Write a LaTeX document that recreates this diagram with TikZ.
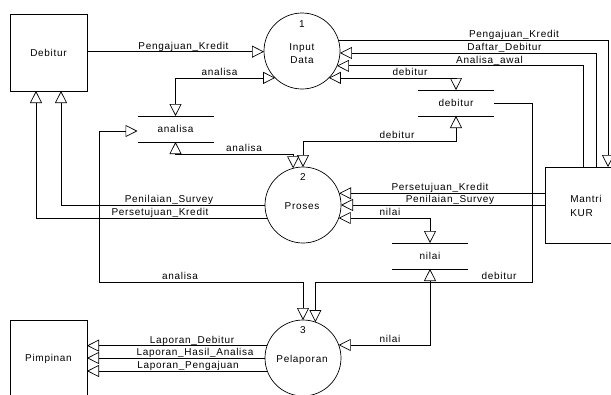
\documentclass[tikz,border=0pt]{standalone}
\usepackage{fontspec}
\setmainfont[LetterSpace=7]{Liberation Sans}
\usetikzlibrary{arrows.meta,calc}
\begin{document}
\begin{tikzpicture}[x=1pt,y=-1pt,font=\fontsize{10}{12}\selectfont,line width=0.7pt,
  proc/.style={circle,draw,minimum size=76pt,inner sep=0pt,outer sep=0pt},
  store/.style={minimum width=76pt,minimum height=26pt,inner sep=0pt,outer sep=0pt},
  ent/.style={draw,rectangle,minimum width=77pt,minimum height=77pt,inner sep=0pt,outer sep=0pt},
  flow/.style={-{Triangle[open,length=12pt,width=12pt]}},
  bflow/.style={{Triangle[open,length=12pt,width=12pt]}-{Triangle[open,length=12pt,width=12pt]}},
  lbl/.style={anchor=base,inner sep=0pt}]
\useasboundingbox (0,0) rectangle (611,394);
\clip (0,0) rectangle (611,394);
% entities
\node[ent] (deb) at (48.5,52.5) {Debitur};
\node[ent] (pim) at (48.5,358.5) {Pimpinan};
\node[draw,minimum width=80pt,minimum height=76pt,inner sep=0pt,outer sep=0pt] (man) at (585,205) {};
\node[anchor=base west,inner sep=0pt] (manA) at (570,202) {Mantri};
\node[anchor=base west,inner sep=0pt] (manB) at (570,216) {KUR};
% processes
\node[proc] (c1) at (302,51) {};
\node[lbl] (c1n) at (302,27) {1};
\node[lbl] (c1a) at (302,50) {Input};
\node[lbl] (c1b) at (302,63) {Data};
\node[proc] (c2) at (303,205) {};
\node[lbl] (c2n) at (303,180) {2};
\node[lbl] (c2a) at (302,209) {Proses};
\node[proc] (c3) at (303,358) {};
\node[lbl] (c3n) at (303,333) {3};
\node[lbl] (c3a) at (302,362) {Pelaporan};
% stores
\node[store] (ana) at (175.5,129) {analisa};
\node[store] (dbs) at (456,103) {debitur};
\node[store] (nil) at (430,256) {nilai};
\foreach \s in {ana,dbs,nil}{
  \draw (\s.north west) -- (\s.north east) (\s.south west) -- (\s.south east);
}
% flows
\draw[flow] (deb.east |- c1.181.5) -- (c1.181.5);
\draw[bflow] (c1.225.3) -| (ana.north);
\draw[bflow] (ana.south) -- ++(0,12) -| (c2.105.3);
\draw[bflow] (c1.-45.3) -| (dbs.north);
\draw[bflow] (dbs.south) -- ++(0,25) -| (c2.90);
\draw[flow] (c1.16.8) -| ($(man.north west)+(63,0)$);
\draw[flow] ($(man.north west)+(51,0)$) |- (c1.-3);
\draw[flow] ($(man.north west)+(38,0)$) |- (c1.-23.3);
\draw[flow] (man.west |- c2.18.4) -- (c2.18.4);
\draw[flow] (man.west |- c2.0) -- (c2.0);
\draw[bflow] (c2.-20) -| (nil.north);
\draw[bflow] (nil.south) |- (c3.20);
\draw[flow] (c2.180) -| ($(deb.south)+(12.5,0)$);
\draw[flow] (c2.200) -| ($(deb.south)+(-12.5,0)$);
\draw[bflow] ($(ana.west)+(0,2)$) -- ++(-38,0) |- ($(c3.90)+(0,-38)$) -- (c3.90);
\draw[flow] (dbs.east) -- ++(38,0) |- ($(c3.71.6)+(0,-40)$) -- (c3.71.6);
\draw[flow] (c3.161.6) -- (pim.east |- c3.161.6);
\draw[flow] (c3.180) -- (pim.east |- c3.180);
\draw[flow] (c3.200) -- (pim.east |- c3.200);
% labels
\node[lbl] (l1) at (183.5,49.5) {Pengajuan\_Kredit};
\node[lbl] (l2) at (219.5,75.5) {analisa};
\node[lbl] (l3) at (244,151.5) {analisa};
\node[lbl] (l4) at (514,37.5) {Pengajuan\_Kredit};
\node[lbl] (l5) at (504.5,50.5) {Daftar\_Debitur};
\node[lbl] (l6) at (489.5,63.5) {Analisa\_awal};
\node[lbl] (l7) at (410,75.5) {debitur};
\node[lbl] (l8) at (397,138.5) {debitur};
\node[lbl] (l9) at (440,190.5) {Persetujuan\_Kredit};
\node[lbl] (l10) at (450,202.5) {Penilaian\_Survey};
\node[lbl] (l11) at (390,215.5) {nilai};
\node[lbl] (l12) at (169,202.5) {Penilaian\_Survey};
\node[lbl] (l13) at (160,215.5) {Persetujuan\_Kredit};
\node[lbl] (l14) at (180,279.5) {analisa};
\node[lbl] (l15) at (499,279.5) {debitur};
\node[lbl] (l16) at (390,342.5) {nilai};
\node[lbl] (l17) at (192,343.5) {Laporan\_Debitur};
\node[lbl] (l18) at (195,355.5) {Laporan\_Hasil\_Analisa};
\node[lbl] (l19) at (188,368.5) {Laporan\_Pengajuan};
\end{tikzpicture}
\end{document}
